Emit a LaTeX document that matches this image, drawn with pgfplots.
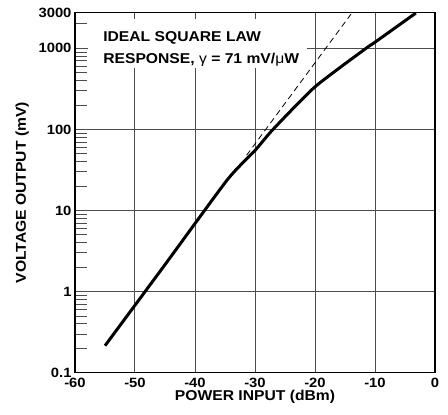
\documentclass[border=0pt]{standalone}
\usepackage{pgfplots}
\pgfplotsset{compat=1.18}
\usepackage{fontspec}
\setmainfont{Liberation Sans}[FakeStretch=1.1]

\begin{document}
\begin{tikzpicture}
\useasboundingbox (-75bp,-42.3bp) rectangle (373bp,372.7bp);
\begin{axis}[
    width=360bp, height=360bp, scale only axis,
    xmin=-60, xmax=0,
    ymode=log, ymin=0.1, ymax=2750,
    xtick={-60,-50,-40,-30,-20,-10,0},
    xticklabels={-60,-50,-40,-30,-20,-10,0},
    ytick={0.1,1,10,100,1000,2750},
    yticklabels={0.1,1,10,100,1000,3000},
    minor ytick={0.2,0.3,0.4,0.5,0.6,0.7,0.8,0.9,2,3,4,5,6,7,8,9,20,30,40,50,60,70,80,90,200,300,400,500,600,700,800,900,2000},
    ytick pos=left, xtick pos=bottom, tick align=inside,
    major tick length=0pt, minor tick length=12.5bp,
    minor tick style={black!70, line width=0.9bp},
    grid=major,
    major grid style={black!70, line width=1bp},
    axis line style={line width=1.3bp},
    ticklabel style={font=\fontsize{13.5}{14}\selectfont\bfseries},
    xticklabel style={yshift=-1.5bp},
    label style={font=\fontsize{14.3}{16}\selectfont\bfseries},
    xlabel={POWER INPUT (dBm)},
    ylabel={VOLTAGE OUTPUT (mV)},
    x label style={at={(axis description cs:0.5,-0.067)}, anchor=center},
    y label style={at={(axis description cs:-0.147,0.5)}, anchor=center},
]
% ideal square law
\addplot[black, line width=0.8bp, dash pattern=on 6bp off 4bp] coordinates {
    (-31.4,48) (-14,2640)
};
% measured response
\addplot[black, line width=3bp, smooth, tension=0.35] coordinates {
    (-55,0.215) (-45,2.15) (-34.6,24) (-30,55) (-27,100) (-20,335)
    (-11.5,1000) (-10,1190) (-3.2,2720)
};
\fill[white] (rel axis cs:0.036,0.983) rectangle (rel axis cs:0.644,0.847);
\node[anchor=base west, inner sep=0pt, font=\fontsize{14.3}{16}\selectfont\bfseries]
    at (rel axis cs:0.078,0.920) {IDEAL SQUARE LAW};
\node[anchor=base west, inner sep=0pt, font=\fontsize{14.3}{16}\selectfont\bfseries]
    at (rel axis cs:0.078,0.860) {RESPONSE, {\mdseries γ} = 71 mV/{\mdseries μ}W};
\end{axis}
\end{tikzpicture}
\end{document}
